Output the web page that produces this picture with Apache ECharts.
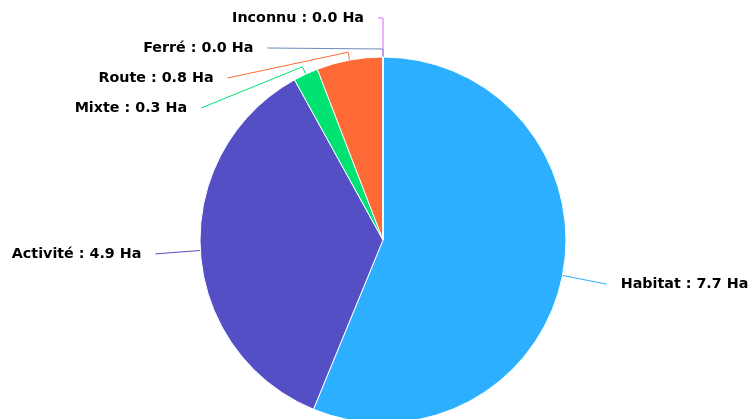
<!DOCTYPE html>
<html>
<head>
<meta charset="utf-8">
<script src="https://cdn.jsdelivr.net/npm/echarts@6/dist/echarts.min.js"></script>
<style>
html,body{margin:0;padding:0;background:#fff;}
#c{width:749px;height:419px;}
</style>
</head>
<body>
<div id="c"></div>
<script>
const categories = ['Habitat', 'Activité', 'Mixte', 'Route', 'Ferré', 'Inconnu'];
const values = [7.7, 4.9, 0.3, 0.8, 0.0, 0.0];
const colors = ['#2caffe', '#544fc5', '#00e272', '#fe6a35', '#6b8abc', '#d568fb'];
const unit = 'Ha';

// label line lengths per category [length, length2]
const lineLens = {
  'Habitat': [45, 0],
  'Activité': [59, 0],
  'Mixte': [38, 18],
  'Route': [38, 18],
  'Ferré': [38, 18],
  'Inconnu': [39, 5]
};
const CENTER = [383, 240];
const RADIUS = 183;
const CROOK = 8;

const chart = echarts.init(document.getElementById('c'), null, {renderer: 'canvas'});
const data = categories.map((name, i) => ({
  name: name,
  value: values[i],
  itemStyle: {color: colors[i]},
  labelLine: {length: lineLens[name][0], length2: lineLens[name][1]}
}));

chart.setOption({
  animation: false,
  backgroundColor: '#ffffff',
  series: [{
    type: 'pie',
    center: CENTER,
    radius: RADIUS,
    startAngle: 90,
    clockwise: true,
    minShowLabelAngle: 0,
    avoidLabelOverlap: true,
    itemStyle: {borderColor: '#ffffff', borderWidth: 1},
    label: {
      show: true,
      position: 'outer',
      alignTo: 'none',
      bleedMargin: 0,
      overflow: 'none',
      fontFamily: 'DejaVu Sans',
      fontWeight: 'bold',
      fontSize: 14.3,
      lineHeight: 28,
      color: '#000000',
      distanceToLabelLine: 14,
      formatter: p => p.name + ' : ' + Number(p.value).toFixed(1) + ' ' + unit
    },
    labelLine: {show: true, smooth: false, lineStyle: {width: 1}},
    labelLayout: function (params) {
      const pts = params.labelLinePoints;
      if (!pts || pts.length < 3) return {};
      const p0 = pts[0], p1 = pts[1], p2 = pts[2];
      const rx = p0[0] - CENTER[0], ry = p0[1] - CENTER[1];
      const rl = Math.hypot(rx, ry) || 1;
      const ux = rx / rl, uy = ry / rl;
      const sx = p1[0] - p0[0], sy = p1[1] - p0[1];
      const sl = Math.hypot(sx, sy) || 1;
      const cos = (sx * ux + sy * uy) / sl;
      if (cos > 0.97) return {};
      // label was moved: short radial stub, then a straight connector to the label
      return {
        labelLinePoints: [
          [p0[0], p0[1]],
          [p0[0] + ux * CROOK, p0[1] + uy * CROOK],
          [p2[0], p2[1]]
        ]
      };
    },
    emphasis: {disabled: true},
    data: data
  }]
});
</script>
</body>
</html>
